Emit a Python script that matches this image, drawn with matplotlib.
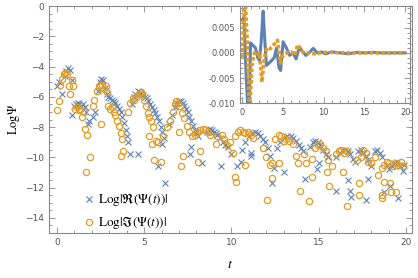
import matplotlib
matplotlib.use("Agg")
import matplotlib.pyplot as plt
from matplotlib.ticker import MultipleLocator

plt.rcParams['mathtext.fontset'] = 'stix'

# main plot: Log|Re(Psi(t))| (crosses)
t_re = [0.0, 0.1, 0.3, 0.45, 0.55, 0.65, 0.75, 0.85, 0.9, 1.0, 1.1, 1.2, 1.3, 1.4, 1.5, 1.6, 1.7, 1.8, 1.85, 2.05, 2.2,
        2.35, 2.45, 2.55, 2.65, 2.75, 2.85, 2.95, 3.05, 3.15, 3.25, 3.35, 3.45, 3.55, 3.65, 3.75, 3.85, 3.95, 4.0, 4.1, 4.2,
        4.3, 4.4, 4.5, 4.65, 4.75, 4.85, 4.95, 5.05, 5.15, 5.25, 5.35, 5.45, 5.55, 5.65, 5.75, 5.85, 5.95, 6.05, 6.15,
        4.65, 5.8, 6.0, 6.2,
        6.45, 6.6, 6.75, 6.9, 7.0, 7.1, 7.2, 7.3, 7.4, 7.5, 7.6, 7.7, 7.8, 7.9, 8.0, 7.65, 7.7, 8.3, 8.1,
        8.6, 8.7, 8.8, 8.9, 9.0, 9.1, 9.2, 9.35, 9.5, 9.65, 9.8, 10.0, 9.4, 10.3, 10.55,
        10.6, 10.8, 11.0, 11.2, 11.35, 11.5, 11.65, 11.8, 11.95, 12.1, 11.1, 11.15, 12.2, 12.45, 12.3,
        12.6, 12.8, 13.0, 13.2, 13.4, 13.55, 13.7, 13.85, 14.0, 14.1, 13.0, 14.2,
        14.5, 14.65, 14.8, 14.95, 15.1, 15.25, 15.4, 15.55, 14.9, 15.0, 16.0, 16.0, 16.2, 16.35,
        16.5, 16.65, 16.8, 16.95, 17.1, 17.25, 17.4, 17.55, 17.7, 17.85, 18.0, 16.65, 16.8, 16.85, 17.7, 17.85,
        18.2, 18.35, 18.5, 18.65, 18.75, 18.9, 19.0, 19.1, 19.2, 19.35, 19.5, 19.55, 19.65, 19.8, 19.9]
log_re = [-5.3, -5.0, -5.8, -4.6, -4.3, -4.1, -4.2, -4.9, -7.2, -6.6, -6.5, -6.4, -6.5, -6.6, -6.5, -6.7, -7.0, -7.8, -7.6, -7.3, -7.0,
          -5.6, -5.0, -4.8, -4.9, -5.4, -5.8, -6.0, -6.1, -6.2, -6.3, -6.4, -6.6, -6.8, -7.0, -7.3, -7.7, -8.2, -8.6, -9.0, -9.8,
          -6.5, -6.0, -5.8, -5.6, -5.7, -5.8, -5.9, -6.0, -6.1, -6.3, -6.5, -6.7, -6.9, -7.1, -7.3, -7.6, -8.0, -8.3, -8.7,
          -9.8, -10.6, -9.1, -11.7,
          -7.8, -7.2, -6.7, -6.4, -6.3, -6.3, -6.4, -6.6, -6.8, -7.0, -7.3, -7.6, -7.9, -8.2, -8.4, -9.8, -9.3, -10.4, -8.6,
          -8.3, -8.2, -8.1, -8.2, -8.3, -8.4, -8.5, -8.7, -9.0, -9.2, -9.3, -9.8, -10.6, -10.6, -10.3,
          -9.5, -9.0, -8.6, -8.4, -8.3, -8.4, -8.6, -8.8, -9.0, -9.4, -9.7, -9.9, -9.9, -10.7, -11.7,
          -9.4, -9.0, -8.7, -8.6, -8.6, -8.7, -8.9, -9.2, -9.4, -9.6, -11.0, -11.4,
          -9.3, -9.0, -8.9, -9.0, -9.2, -9.5, -9.8, -10.0, -10.75, -10.4, -12.2, -10.0, -9.7, -9.5,
          -9.5, -9.6, -9.8, -10.1, -10.3, -9.6, -9.5, -9.7, -9.9, -10.2, -10.6, -11.5, -12.2, -12.6, -12.8, -11.4,
          -9.6, -9.5, -9.7, -10.0, -12.3, -10.5, -10.8, -11.9, -10.6, -10.4, -10.3, -12.7, -10.6, -10.9, -10.5]

# main plot: Log|Im(Psi(t))| (circles)
t_im = [0.0, 0.1, 0.2, 0.3, 0.4, 0.5, 0.6, 0.7, 0.75, 0.85, 0.95, 1.05, 1.15, 1.25, 1.35, 1.45, 1.55, 1.6, 1.75, 1.7, 1.93,
        2.05, 2.15, 2.3, 2.4, 2.5, 2.6, 2.7, 2.8, 2.85, 2.55, 2.95, 3.05, 3.15, 3.25, 3.35, 3.45, 3.55, 3.65, 3.75, 3.7, 3.8,
        4.1, 4.2, 4.35, 4.45, 4.55, 4.7, 4.8, 4.9, 5.0, 5.1, 5.2, 5.3, 5.4, 5.5, 5.3, 5.45, 5.8, 5.55, 5.95, 5.7, 6.1,
        6.3, 6.5, 6.65, 6.75, 6.85, 6.95, 7.05, 7.15, 7.3, 7.45, 7.6, 7.75, 7.1, 7.25, 7.0, 8.2, 8.1,
        7.9, 8.05, 8.2, 8.35, 8.5, 8.65, 8.8, 9.1, 9.2, 9.45, 9.6, 9.75, 9.9, 10.1,
        10.2, 10.35, 10.5, 10.65, 10.8, 10.95, 11.1, 11.25, 10.8, 10.2, 10.25,
        11.8, 12.0, 12.2, 12.35, 12.75, 12.35, 12.05,
        12.5, 12.7, 12.85, 13.0, 13.15, 13.3, 13.5, 13.7, 13.8, 13.9, 14.15, 14.3, 14.45, 14.6, 14.6,
        14.8, 14.95, 15.1, 15.25, 15.4, 15.55, 15.75, 15.5, 15.6,
        16.0, 16.15, 16.3, 16.45, 16.6, 16.4, 16.6, 17.3, 17.3, 17.2, 17.4, 17.55, 17.7, 17.85, 18.0, 18.2,
        18.4, 18.6, 18.65, 18.75, 18.6, 18.75, 18.9, 19.05, 19.1, 19.15, 19.25, 19.4, 19.45, 19.55, 19.7, 19.85]
log_im = [-6.9, -6.3, -5.2, -4.8, -4.5, -4.4, -4.5, -5.3, -5.8, -4.9, -5.3, -6.8, -6.7, -6.9, -6.8, -7.3, -7.0, -8.1, -8.5, -11.0, -10.0,
          -6.6, -6.2, -5.6, -5.3, -5.2, -5.2, -5.5, -5.3, -5.7, -7.8, -6.6, -6.8, -6.7, -7.0, -7.2, -7.6, -7.9, -8.4, -8.8, -9.9, -9.6,
          -7.0, -6.4, -6.1, -6.2, -6.0, -5.8, -5.7, -5.8, -6.2, -6.6, -7.1, -7.3, -7.6, -8.0, -8.6, -9.1, -9.0, -10.2, -10.3, -8.9, -8.6,
          -8.0, -7.6, -7.0, -6.5, -6.3, -6.4, -6.6, -7.1, -7.4, -7.9, -8.3, -8.6, -10.6, -9.9, -8.3, -9.6, -10.3,
          -8.5, -8.3, -8.2, -8.1, -8.2, -8.3, -8.5, -9.1, -8.6, -8.5, -8.8, -9.2, -9.0, -9.7,
          -8.6, -8.3, -8.2, -8.3, -8.4, -8.3, -8.5, -8.7, -10.5, -11.3, -11.6,
          -9.4, -10.0, -10.5, -10.4, -10.4, -11.35, -12.85,
          -8.8, -8.5, -8.6, -8.9, -8.8, -8.9, -9.1, -9.9, -10.4, -12.2, -9.8, -10.4, -12.9, -10.1, -11.3,
          -9.4, -9.2, -9.1, -9.4, -9.6, -10.2, -10.6, -11.0, -11.9,
          -9.8, -9.6, -9.5, -9.7, -9.6, -11.0, -13.2, -11.7, -12.5, -10.2, -10.0, -9.5, -9.7, -10.3, -10.4, -10.0,
          -11.2, -12.7, -12.5, -11.6, -10.7, -10.5, -10.3, -10.4, -11.7, -12.3, -10.6, -10.4, -12.3, -10.5, -10.3, -10.6]

# inset: Re(Psi(t)) and Im(Psi(t))
t_in_re = [0.0, 0.2, 0.45, 0.7, 0.85, 1.0, 1.3, 1.6, 1.9, 2.1, 2.3, 2.55, 2.7, 2.95, 3.3, 3.6, 3.9, 4.2, 4.5, 4.7,
           5.0, 5.4, 5.8, 6.2, 6.6, 7.0, 7.4, 7.8, 8.2, 8.7, 9.2, 9.7, 10.2, 11.0, 12.0, 13.0, 14.0, 15.0, 16.0,
           17.0, 18.0, 19.0, 20.0]
re_psi = [0.0065, 0.007, -0.004, -0.012, -0.011, 0.002, 0.0015, 0.001, -0.001, -0.0015, 0.002, 0.0083, 0.004,
          -0.0025, -0.002, -0.0015, -0.001, 0.001, -0.003, -0.0035, 0.0022, 0.001, -0.0005, 0.0, -0.0012, 0.0012,
          0.0002, -0.0005, 0.0, 0.0009, 0.0, 0.0002, -0.0002, 0.0002, 0.0, -0.0002, 0.0001, 0.0, 0.0001,
          0.0, 0.0, 0.0, 0.0]
t_in_im = [0.0, 0.15, 0.35, 0.6, 0.85, 1.0, 1.2, 1.5, 1.8, 2.1, 2.4, 2.7, 3.0, 3.4, 3.8, 4.3, 4.7, 5.0, 5.5,
           6.0, 6.4, 6.8, 7.2, 7.6, 8.2, 8.8, 9.5, 10.5, 12.0, 14.0, 16.0, 18.0, 20.0]
im_psi = [-0.001, 0.006, 0.0105, 0.002, -0.011, -0.008, -0.002, 0.0, -0.0005, 0.0, -0.0058, -0.001, 0.001,
          0.0008, 0.0015, 0.0025, -0.002, -0.0005, 0.0, 0.0002, -0.0005, 0.0016, 0.0005, 0.0, 0.0, -0.0002,
          0.0, 0.0001, 0.0, 0.0, 0.0, 0.0, 0.0]
inset_yticks = [-0.010, -0.005, 0.0, 0.005]

blue = '#5E81B5'
orange = '#E19C24'
gray = '#888888'


def style_axes(ax, size):
    for s in ax.spines.values():
        s.set_color(gray)
        s.set_linewidth(0.8)
    ax.tick_params(which='both', direction='in', color=gray, labelcolor='#555555',
                   top=True, right=True, labelsize=size, width=0.6)
    ax.tick_params(which='major', length=4)
    ax.tick_params(which='minor', length=2)


fig = plt.figure(figsize=(4.18, 2.78), dpi=100)
ax = fig.add_axes([0.117, 0.162, 0.869, 0.816])
ax.plot(t_re, log_re, 'x', color=blue, ms=4, mew=0.8,
        label=r'$\mathrm{Log}|\Re(\Psi(t))|$')
ax.plot(t_im, log_im, 'o', mfc='none', mec=orange, ms=4.5, mew=0.9,
        label=r'$\mathrm{Log}|\Im(\Psi(t))|$')
ax.set_xlim(-0.45, 20.35)
ax.set_ylim(-15, 0)
ax.xaxis.set_major_locator(MultipleLocator(5))
ax.xaxis.set_minor_locator(MultipleLocator(1))
ax.yaxis.set_major_locator(MultipleLocator(2))
ax.yaxis.set_minor_locator(MultipleLocator(0.5))
style_axes(ax, 6.5)
ax.set_xlabel(r'$t$', fontsize=10, labelpad=7)
ax.set_ylabel(r'$\mathrm{Log}\Psi$', fontsize=9, labelpad=2)
ax.legend(loc='lower left', bbox_to_anchor=(0.06, -0.045), frameon=False, fontsize=9.5,
          handletextpad=0.2, handlelength=1.0, labelspacing=0.45)

# inset with the raw real / imaginary parts
ins = fig.add_axes([0.574, 0.629, 0.407, 0.349])
ins.set_zorder(5)
ins.set_facecolor('white')
ins.plot(t_in_re, re_psi, color=blue, lw=2.2)
ins.plot(t_in_im, im_psi, color=orange, lw=2.6, ls=(0, (1.0, 0.6)))
ins.set_xlim(-0.3, 20.6)
ins.set_ylim(-0.010, 0.0093)
ins.xaxis.set_major_locator(MultipleLocator(5))
ins.xaxis.set_minor_locator(MultipleLocator(1))
ins.set_yticks(inset_yticks)
ins.set_yticklabels(['%.3f' % v for v in inset_yticks])
ins.yaxis.set_minor_locator(MultipleLocator(0.001))
style_axes(ins, 6)

fig.savefig('out.png', dpi=100)
